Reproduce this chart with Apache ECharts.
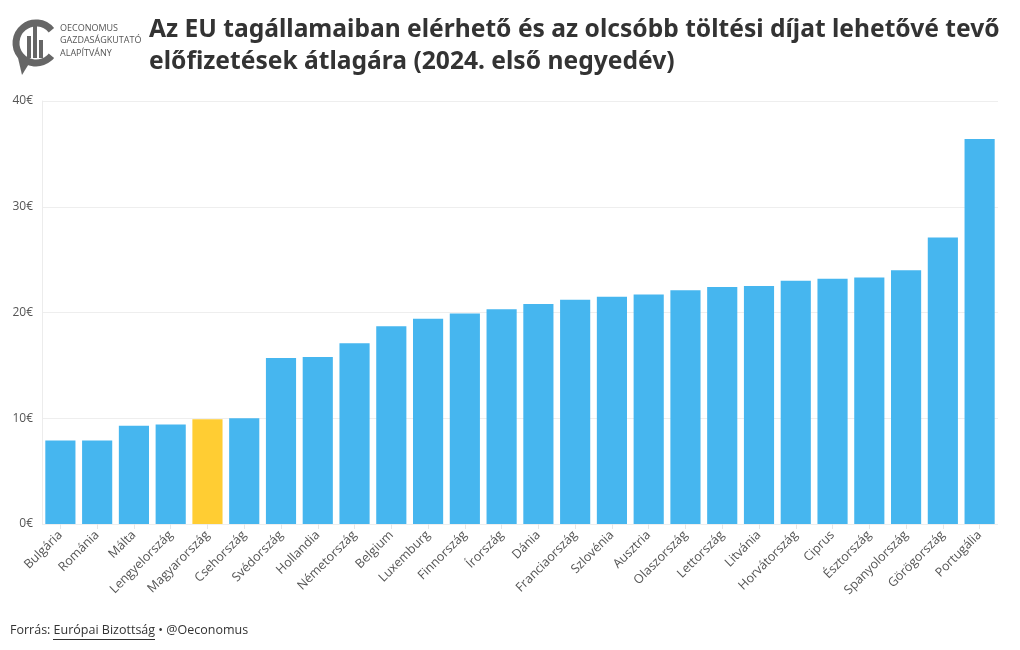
<!DOCTYPE html>
<html><head><meta charset="utf-8">
<script src="https://cdn.jsdelivr.net/npm/echarts@6/dist/echarts.min.js"></script>
<style>html,body{margin:0;padding:0;background:#fff}#c{width:1020px;height:650px}</style>
</head><body><div id="c"></div>
<script>
const categories = ["Bulgária","Románia","Málta","Lengyelország","Magyarország","Csehország","Svédország","Hollandia","Németország","Belgium","Luxemburg","Finnország","Írország","Dánia","Franciaország","Szlovénia","Ausztria","Olaszország","Lettország","Litvánia","Horvátország","Ciprus","Észtország","Spanyolország","Görögország","Portugália"];
const values = [7.9,7.9,9.3,9.4,9.9,10.0,15.7,15.8,17.1,18.7,19.4,19.9,20.3,20.8,21.2,21.5,21.7,22.1,22.4,22.5,23.0,23.2,23.3,24.0,27.1,36.4];
const highlight = "Magyarország";
const yTicks = [0,10,20,30,40];

const chart = echarts.init(document.getElementById('c'), null, {renderer:'canvas'});
chart.setOption({
  animation:false,
  backgroundColor:'#fff',
  grid:{left:42,right:22,top:101,bottom:126},
  xAxis:{type:'category',data:categories,
    axisLine:{show:false},
    axisTick:{show:true,alignWithLabel:true,length:5,lineStyle:{color:'#e6e6e6'}},
    axisLabel:{rotate:45,interval:0,color:'#555',fontSize:12.5,fontFamily:'Open Sans',margin:9}},
  yAxis:{type:'value',min:yTicks[0],max:yTicks[yTicks.length-1],interval:10,
    axisLine:{show:true,lineStyle:{color:'#ececec'}},
    axisTick:{show:false},
    splitLine:{lineStyle:{color:'#eeeeee'}},
    axisLabel:{color:'#555',fontSize:12,fontFamily:'Open Sans',formatter:v=>v+'€',margin:9}},
  series:[{type:'bar',barCategoryGap:'18%',
    data:values.map((v,i)=>({value:v,itemStyle:{color:categories[i]===highlight?'#FFCD33':'#46B6EF'}}))}],
  graphic:[
    {type:'arc',shape:{cx:36,cy:43,r:20,startAngle:-Math.PI*0.22,endAngle:Math.PI*0.22,clockwise:false},style:{stroke:'#666',lineWidth:7,fill:null}},
    {type:'polygon',shape:{points:[[18,58],[30,62],[22,75]]},style:{fill:'#666'}},
    {type:'rect',shape:{x:27,y:36,width:4,height:22},style:{fill:'#666'}},
    {type:'rect',shape:{x:33,y:26,width:4,height:32},style:{fill:'#666'}},
    {type:'rect',shape:{x:39,y:40,width:4,height:18},style:{fill:'#666'}},
    {type:'text',left:60,top:22,style:{text:'OECONOMUS\nGAZDASÁGKUTATÓ\nALAPÍTVÁNY',fill:'#555',font:'9px "Open Sans"',lineHeight:12.5}},
    {type:'text',left:149,top:14,style:{text:'Az EU tagállamaiban elérhető és az olcsóbb töltési díjat lehetővé tevő\nelőfizetések átlagára (2024. első negyedév)',fill:'#333',font:'bold 24.6px "Noto Sans"',lineHeight:32}},
    {type:'text',left:10,top:624,style:{text:'Forrás: Európai Bizottság • @Oeconomus',fill:'#333',font:'12.5px "Open Sans"'}},
    {type:'line',shape:{x1:53,y1:639.5,x2:155,y2:639.5},style:{stroke:'#333',lineWidth:1}}
  ]
});
</script></body></html>
